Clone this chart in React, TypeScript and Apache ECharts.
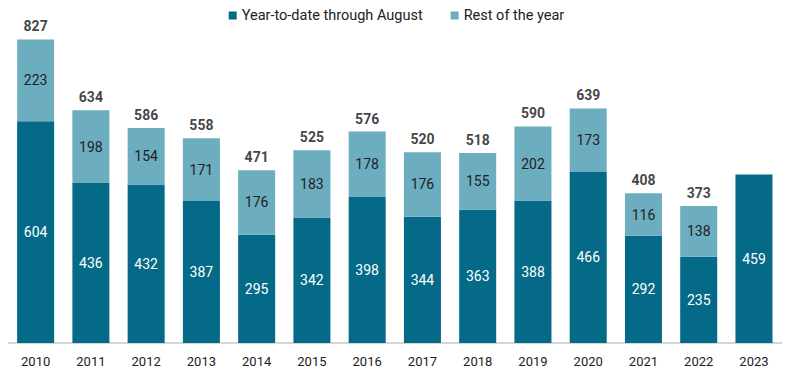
import React, { useEffect, useRef } from "react";
import * as echarts from "echarts";

const categories = ["2010","2011","2012","2013","2014","2015","2016","2017","2018","2019","2020","2021","2022","2023"];
const ytdValues = [604,436,432,387,295,342,398,344,363,388,466,292,235,459];
const restValues: (number | null)[] = [223,198,154,171,176,183,178,176,155,202,173,116,138,null];
const totals: (number | null)[] = [827,634,586,558,471,525,576,520,518,590,639,408,373,null];

const DARK = "#046a87";
const LIGHT = "#6cadc0";
const FONT = "Roboto, 'Noto Sans', sans-serif";

export default function App() {
  const ref = useRef<HTMLDivElement>(null);
  useEffect(() => {
    if (!ref.current) return;
    const chart = echarts.init(ref.current, null, { renderer: "svg" });
    chart.setOption({
      animation: false,
      textStyle: { fontFamily: FONT },
      legend: {
        top: 0,
        padding: 0,
        left: "center",
        itemWidth: 8,
        itemHeight: 8,
        itemGap: 28,
        icon: "rect",
        textStyle: { fontSize: 14.5, color: "#222", fontFamily: FONT },
        data: ["Year-to-date through August", "Rest of the year"],
      },
      grid: { left: 0, right: 3.4, top: 4.7, bottom: 33, containLabel: false },
      xAxis: {
        type: "category",
        data: categories,
        axisLine: { lineStyle: { color: "#c8c8c8", width: 1.5 } },
        axisTick: { show: false },
        axisLabel: { color: "#222", fontSize: 13, margin: 12, fontFamily: FONT },
      },
      yAxis: { type: "value", min: 0, max: 900, show: false, splitLine: { show: false } },
      series: [
        {
          name: "Year-to-date through August",
          type: "bar",
          stack: "a",
          barWidth: "67%",
          data: ytdValues,
          itemStyle: { color: DARK },
          label: { show: true, position: "inside", color: "#fff", fontSize: 14, fontFamily: FONT },
        },
        {
          name: "Rest of the year",
          type: "bar",
          stack: "a",
          data: restValues,
          itemStyle: { color: LIGHT },
          label: { show: true, position: "inside", color: "#222", fontSize: 14, fontFamily: FONT },
        },
        {
          name: "Total",
          type: "scatter",
          data: totals,
          symbolSize: 0,
          silent: true,
          label: {
            show: true,
            position: "top",
            distance: 6,
            color: "#111",
            fontWeight: "bold",
            fontSize: 14,
            fontFamily: FONT,
            formatter: (p: any) => (p.value == null ? "" : String(p.value)),
          },
        },
      ],
    });
    return () => chart.dispose();
  }, []);
  return <div ref={ref} style={{ width: 777, height: 368 }} />;
}
